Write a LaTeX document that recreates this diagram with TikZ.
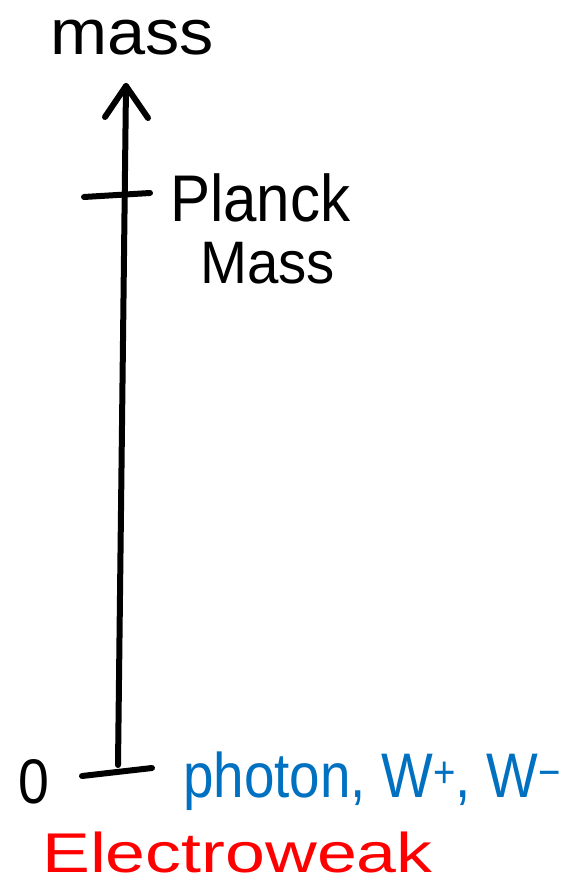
\documentclass[tikz,border=0pt]{standalone}
\usepackage{fontspec}
\setmainfont{Liberation Sans}
\definecolor{penblue}{RGB}{0,112,192}
\definecolor{penred}{RGB}{255,0,0}
\begin{document}
\begin{tikzpicture}[x=1pt,y=-1pt,
  pen/.style={line width=6pt,line cap=round,line join=round},
  lbl/.style={inner sep=0pt,anchor=base west,transform shape}]
\useasboundingbox (0,0) rectangle (569,885);
% axis
\coordinate (bot) at (118,765);
\coordinate (top) at (126,86);
\draw[pen] (bot) -- (top);
\draw[pen] (top) ++(-21,31) -- (top) -- ++(22,32);
% ticks
\coordinate (p1) at (84,197);
\coordinate (p2) at (150,193);
\draw[pen] (p1) -- (p2);
\coordinate (z1) at (82,776);
\coordinate (z2) at (152,768);
\draw[pen] (z1) -- (z2);
% labels
\node[lbl,xscale=1.07,font=\fontsize{64}{64}\selectfont] (mass) at (50,55) {mass};
\node[lbl,xscale=0.91,font=\fontsize{66}{66}\selectfont] (planck) at (170,222) {Planck};
\node[lbl,xscale=0.94,font=\fontsize{60}{60}\selectfont] (pmass) at (200,283) {Mass};
\node[lbl,xscale=0.88,font=\fontsize{63}{63}\selectfont] (zero) at (18,803) {0};
\node[lbl,xscale=0.87,font=\fontsize{63}{63}\selectfont,text=penblue] (part) at (183,797) {photon, W\textsuperscript{+}, W\textsuperscript{\char"2212}};
\node[lbl,xscale=1.28,font=\fontsize{56}{56}\selectfont,text=penred] (ew) at (42,872) {Electroweak};
\end{tikzpicture}
\end{document}
